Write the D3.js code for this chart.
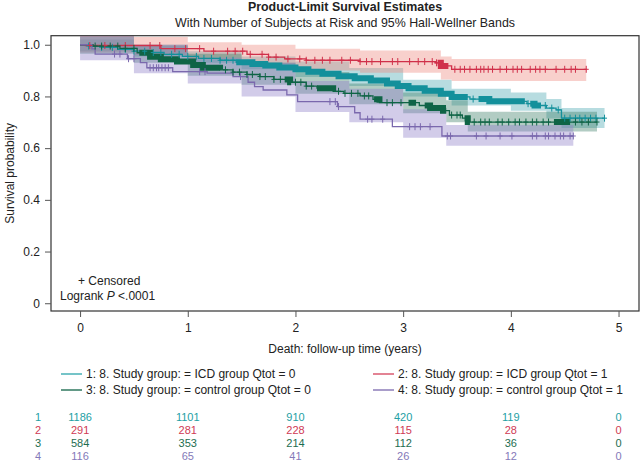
<!DOCTYPE html>
<html><head><meta charset="utf-8">
<script src="https://cdn.jsdelivr.net/npm/d3@7"></script>
<style>
body{margin:0;background:#fff}
svg{display:block}
text{font-family:"Liberation Sans",Arial,Helvetica,sans-serif;fill:#222}
</style>
</head><body>
<svg id="chart" width="641" height="476"></svg>
<script>
// ---------------- DATA ----------------
const groupLabels = [
  "1: 8. Study group: = ICD group Qtot = 0",
  "2: 8. Study group: = ICD group Qtot = 1",
  "3: 8. Study group: = control group Qtot = 0",
  "4: 8. Study group: = control group Qtot = 1"
];
const groupIds = ["1","2","3","4"];

// Kaplan-Meier steps [time (years), survival]
const steps1 = [[0,1],[0.08,0.995],[0.2,0.99],[0.35,0.982],[0.5,0.975],[0.62,0.97],[0.78,0.963],[0.95,0.955],[1.1,0.947],[1.3,0.94],[1.45,0.932],[1.6,0.926],[1.72,0.92],[1.85,0.912],[2.0,0.905],[2.12,0.896],[2.25,0.888],[2.4,0.878],[2.55,0.87],[2.7,0.862],[2.85,0.85],[2.95,0.84],[3.05,0.832],[3.2,0.822],[3.35,0.81],[3.45,0.798],[3.62,0.79],[3.8,0.781],[4.15,0.772],[4.22,0.765],[4.33,0.755],[4.42,0.748],[4.47,0.716]];
const steps2 = [[0,1],[0.05,0.997],[0.75,0.985],[1.15,0.975],[1.55,0.963],[1.75,0.952],[1.9,0.945],[2.1,0.94],[2.6,0.935],[3.3,0.93],[3.35,0.918],[3.45,0.905]];
const steps3 = [[0,1],[0.12,0.995],[0.37,0.986],[0.53,0.969],[0.65,0.954],[0.75,0.944],[0.9,0.935],[1.05,0.922],[1.14,0.911],[1.3,0.903],[1.42,0.894],[1.55,0.885],[1.67,0.877],[1.8,0.866],[1.95,0.855],[2.1,0.84],[2.2,0.832],[2.35,0.82],[2.45,0.812],[2.6,0.802],[2.72,0.789],[2.78,0.776],[3.15,0.765],[3.25,0.755],[3.37,0.745],[3.43,0.728],[3.55,0.716],[3.6,0.701]];
const steps4 = [[0,1],[0.11,0.984],[0.14,0.964],[0.44,0.946],[0.56,0.931],[0.62,0.911],[0.86,0.896],[1.18,0.89],[1.42,0.877],[1.56,0.855],[1.62,0.838],[1.7,0.825],[1.92,0.806],[2.02,0.78],[2.39,0.761],[2.55,0.737],[2.6,0.712],[2.9,0.683],[3.36,0.647]];
const endTimes = [4.87, 4.70, 4.80, 4.58];

// Hall-Wellner band knots [time, lower, upper]
const band1 = [[0,0.975,1.02],[0.5,0.955,0.995],[1,0.93,0.975],[1.5,0.905,0.955],[2,0.875,0.935],[2.5,0.84,0.91],[3,0.8,0.865],[3.45,0.765,0.83],[4,0.745,0.815],[4.33,0.715,0.79],[4.47,0.678,0.755]];
const band2 = [[0,0.97,1.04],[0.5,0.96,1.03],[1,0.945,1.01],[1.5,0.925,1.0],[2,0.9,0.985],[2.6,0.892,0.978],[3.35,0.866,0.955],[3.45,0.86,0.945]];
const band3 = [[0,0.965,1.03],[0.5,0.93,1.0],[1,0.88,0.965],[1.5,0.845,0.93],[2,0.81,0.895],[2.5,0.77,0.85],[3,0.735,0.815],[3.4,0.7,0.785],[3.6,0.664,0.741]];
const band4 = [[0,0.94,1.04],[0.5,0.89,1.0],[1,0.85,0.95],[1.5,0.8,0.93],[2,0.74,0.86],[2.5,0.7,0.83],[3,0.64,0.75],[3.4,0.609,0.69]];

// censored observation times (years)
const cens1 = [0.08,0.2,0.3,0.42,0.5,0.6,0.68,0.75,0.85,0.92,1.0,1.08,1.15,1.22,1.3,1.36,1.42,3.65,4.16,4.32,4.38,4.44,4.5,4.55,4.6,4.64,4.69,4.74,4.79,4.87];
const cens2 = [0.09,0.23,0.42,0.65,0.74,0.88,0.98,1.11,1.24,1.37,1.44,1.51,1.58,1.69,1.75,1.82,1.93,2.04,2.10,2.18,2.25,2.32,2.43,2.51,2.60,2.66,2.71,2.79,2.90,2.95,3.06,3.14,3.20,3.27,3.31,3.48,3.53,3.57,3.62,3.68,3.72,3.75,3.79,3.83,3.90,3.96,4.02,4.06,4.10,4.18,4.23,4.27,4.32,4.42,4.50,4.56,4.60,4.70];
const cens3 = [0.14,0.2,0.28,0.35,0.42,0.5,1.35,1.42,1.48,1.55,1.6,1.67,1.72,1.8,1.86,2.0,2.05,2.1,2.15,2.4,2.46,2.52,2.58,2.64,2.68,2.85,2.9,2.98,3.45,3.5,3.53,3.66,3.72,3.76,3.8,3.88,3.92,3.98,4.04,4.08,4.14,4.2,4.24,4.3,4.35,4.6,4.66,4.72,4.8];
const cens4 = [0.32,0.37,0.45,0.5,0.65,0.68,0.71,0.73,0.76,0.79,0.82,1.11,1.16,1.49,2.32,2.37,2.4,2.67,2.71,2.81,3.06,3.11,3.16,3.25,3.41,3.44,3.68,3.77,3.9,4.01,4.2,4.24,4.32,4.35,4.41,4.46,4.49,4.55,4.58];
// stretches of time with censoring so dense that the marks merge
const dense1 = [[1.45,3.6],[3.7,4.13],[4.18,4.28]];
const dense2 = [[3.32,3.42]];
const dense3 = [[0.55,1.3],[1.9,1.96],[2.2,2.35],[2.73,2.78],[3.05,3.12],[3.2,3.4],[3.57,3.62],[4.4,4.55]];
const dense4 = [];

// numbers at risk
const riskTimes = [0,1,2,3,4,5];
const atRisk1 = [1186,1101,910,420,119,0];
const atRisk2 = [291,281,228,115,28,0];
const atRisk3 = [584,353,214,112,36,0];
const atRisk4 = [116,65,41,26,12,0];

const yTicks = [0,0.2,0.4,0.6,0.8,1.0];
const xTicks = [0,1,2,3,4,5];

// ---------------- STYLE ----------------
const lineColors = ["#13909b","#d0304a","#0f6446","#7a68ad"];
const legendColors = ["#2aa5ab","#d4405a","#0f6446","#7a68ad"];
const textColors = ["#23a0a4","#d03a55","#1d6d50","#8479b9"];
const bandColors = ["#4aa8b2","#ee8a80","#3f7f68","#8f80c8"];

const groups = [
  {steps:steps1, band:band1, cens:cens1, dense:dense1, risk:atRisk1},
  {steps:steps2, band:band2, cens:cens2, dense:dense2, risk:atRisk2},
  {steps:steps3, band:band3, cens:cens3, dense:dense3, risk:atRisk3},
  {steps:steps4, band:band4, cens:cens4, dense:dense4, risk:atRisk4}
];
groups.forEach((g,i)=>{g.end=endTimes[i]; g.label=groupLabels[i]; g.id=groupIds[i];});

// ---------------- LAYOUT ----------------
const svg = d3.select("#chart");
const L=51, R=639, T=35.7, B=311;
const x = d3.scaleLinear().domain([-0.27,5.19]).range([L,R]);
const y = d3.scaleLinear().domain([-0.03,1.035]).range([B,T]);

svg.append("defs").append("clipPath").attr("id","plotclip")
  .append("rect").attr("x",L).attr("y",T).attr("width",R-L).attr("height",B-T);

// titles
svg.append("text").attr("x",(L+R)/2).attr("y",10.5).attr("text-anchor","middle")
  .style("font-size","12.4px").style("font-weight","bold").text("Product-Limit Survival Estimates");
svg.append("text").attr("x",(L+R)/2).attr("y",26.5).attr("text-anchor","middle")
  .style("font-size","12.4px").text("With Number of Subjects at Risk and 95% Hall-Wellner Bands");

const plot = svg.append("g").attr("clip-path","url(#plotclip)");

function survAt(steps,t){let s=steps[0][1];for(const [ti,si] of steps){if(ti<=t+1e-9)s=si;}return s;}

// bands
groups.forEach((g,i)=>{
  const pts = g.band.concat([[g.end, g.band[g.band.length-1][1], g.band[g.band.length-1][2]]]);
  const area = d3.area().curve(d3.curveStepAfter)
    .x(d=>x(d[0])).y0(d=>y(d[1])).y1(d=>y(d[2]));
  plot.append("path").attr("d",area(pts)).attr("fill",bandColors[i]).attr("fill-opacity",0.4);
});

// survival lines
const line = d3.line().curve(d3.curveStepAfter).x(d=>x(d[0])).y(d=>y(d[1]));
groups.forEach((g,i)=>{
  const pts = g.steps.concat([[g.end, g.steps[g.steps.length-1][1]]]);
  plot.append("path").attr("d",line(pts)).attr("fill","none")
    .attr("stroke",lineColors[i]).attr("stroke-width",1.3);
});

// dense censoring stretches
groups.forEach((g,i)=>{
  g.dense.forEach(([a,b])=>{
    const pts=[[a,survAt(g.steps,a)]];
    g.steps.forEach(([t,s])=>{if(t>a&&t<=b)pts.push([t,s]);});
    pts.push([b,survAt(g.steps,b)]);
    plot.append("path").attr("d",line(pts)).attr("fill","none")
      .attr("stroke",lineColors[i]).attr("stroke-width",6);
  });
});

// censor marks
groups.forEach((g,i)=>{
  plot.append("g").selectAll("path").data(g.cens).join("path")
    .attr("d",t=>{const px=x(t),py=y(survAt(g.steps,t));
      return `M${px},${py-3.5}V${py+3.5}M${px-2.5},${py}H${px+2.5}`;})
    .attr("stroke",lineColors[i]).attr("stroke-width",1).attr("fill","none");
});

// frame
svg.append("rect").attr("x",L).attr("y",T).attr("width",R-L).attr("height",B-T)
  .attr("fill","none").attr("stroke","#333").attr("stroke-width",1.2);

// axes
const yAxis = d3.axisLeft(y).tickValues(yTicks).tickSize(6).tickPadding(5).tickSizeOuter(0)
  .tickFormat(d=>d===0?"0":d3.format(".1f")(d));
const gy = svg.append("g").attr("transform",`translate(${L},0)`).call(yAxis);
const xAxis = d3.axisBottom(x).tickValues(xTicks).tickSize(6).tickPadding(6).tickSizeOuter(0)
  .tickFormat(d3.format("d"));
const gx = svg.append("g").attr("transform",`translate(0,${B})`).call(xAxis);
[gy,gx].forEach(g=>{
  g.select(".domain").remove();
  g.selectAll(".tick line").attr("stroke","#555");
  g.selectAll(".tick text").style("font-size","12px").style("font-family",'"Liberation Sans",Arial,sans-serif').attr("fill","#222");
});

svg.append("text").attr("transform",`translate(14,${(T+B)/2}) rotate(-90)`)
  .attr("text-anchor","middle").style("font-size","12px").text("Survival probability");
svg.append("text").attr("x",(L+R)/2).attr("y",353).attr("text-anchor","middle")
  .style("font-size","12px").text("Death: follow-up time (years)");

// inset legend
svg.append("text").attr("x",78).attr("y",285).style("font-size","12px").text("+ Censored");
const lr = svg.append("text").attr("x",60).attr("y",300).style("font-size","12px");
lr.append("tspan").text("Logrank ");
lr.append("tspan").style("font-style","italic").text("P");
lr.append("tspan").text(" <.0001");

// group legend
const legPos = [[61,378],[373,378],[61,394],[373,394]];
groups.forEach((g,i)=>{
  const [lx,ly]=legPos[i];
  svg.append("line").attr("x1",lx).attr("x2",lx+21).attr("y1",ly-4).attr("y2",ly-4)
    .attr("stroke",legendColors[i]).attr("stroke-width",1.3);
  svg.append("text").attr("x",lx+25).attr("y",ly).style("font-size","12px").text(g.label);
});

// at-risk table
const rowY = [421,434,447,460];
groups.forEach((g,i)=>{
  svg.append("text").attr("x",38).attr("y",rowY[i]).attr("text-anchor","middle")
    .style("font-size","11px").style("fill",textColors[i]).text(g.id);
  svg.append("g").selectAll("text").data(riskTimes).join("text")
    .attr("x",t=>x(t)).attr("y",rowY[i]).attr("text-anchor","middle")
    .style("font-size","11px").style("fill",textColors[i])
    .text((t,j)=>g.risk[j]);
});
</script>
</body></html>
